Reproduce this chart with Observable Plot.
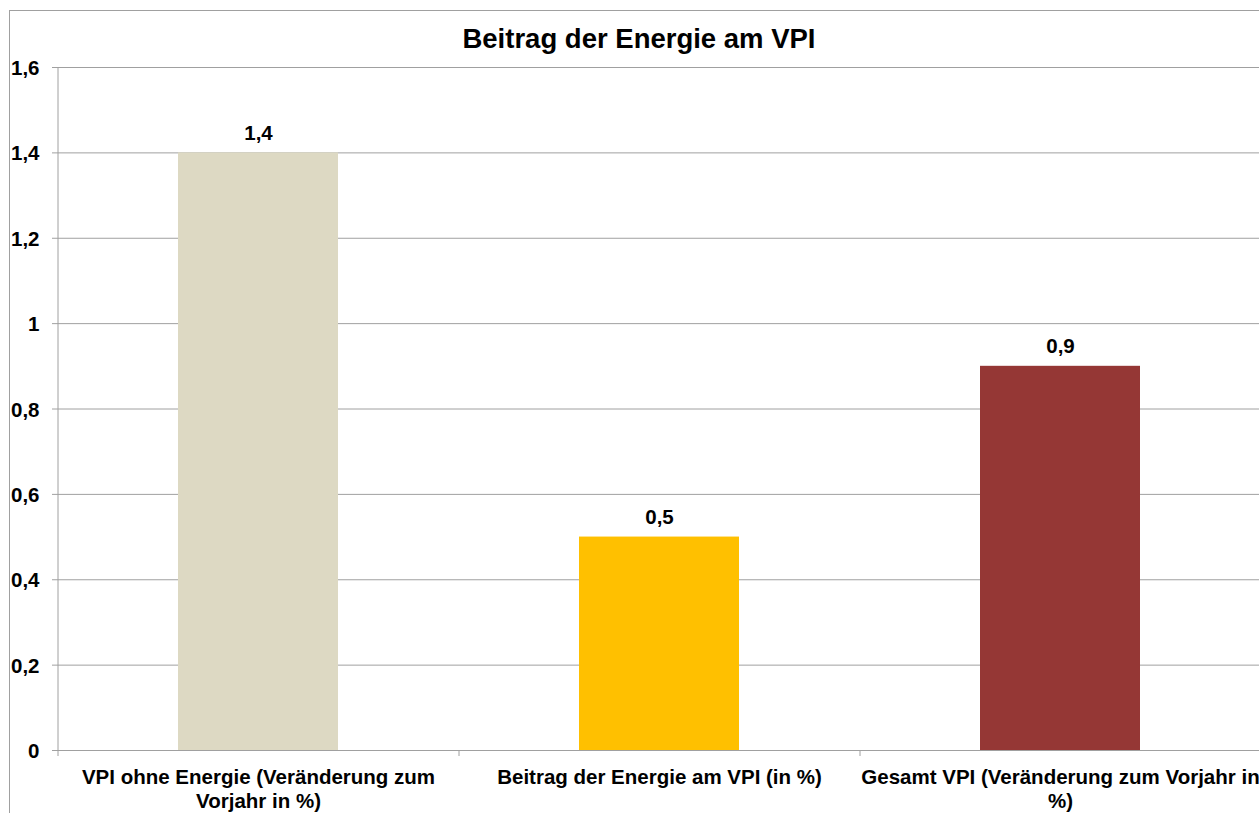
<!DOCTYPE html>
<html>
<head>
<meta charset="utf-8">
<script src="https://cdn.jsdelivr.net/npm/d3@7"></script>
<script src="https://cdn.jsdelivr.net/npm/@observablehq/plot@0.6"></script>
<style>
  html, body { margin: 0; padding: 0; background: #fff; overflow: hidden; }
  #wrap { position: relative; width: 1259px; height: 813px; overflow: hidden; font-family: "Liberation Sans", Arial, sans-serif; }
  #border { position: absolute; left: 9px; top: 10px; width: 1400px; height: 1000px; border-left: 1px solid #a0a0a0; border-top: 1px solid #a0a0a0; box-sizing: border-box; }
  #title { position: absolute; left: 9px; top: 25px; width: 1260px; text-align: center; font-size: 27.5px; line-height: 1; font-weight: bold; color: #000; z-index: 2; }
  #chart { position: absolute; left: 0; top: 0; z-index: 1; }
</style>
</head>
<body>
<div id="wrap">
  <div id="border"></div>
  <div id="chart"></div>
  <div id="title">Beitrag der Energie am VPI</div>
</div>
<script>
const categories = [
  "VPI ohne Energie (Veränderung zum Vorjahr in %)",
  "Beitrag der Energie am VPI (in %)",
  "Gesamt VPI (Veränderung zum Vorjahr in %)"
];
const categoryLabels = [
  "VPI ohne Energie (Veränderung zum\nVorjahr in %)",
  "Beitrag der Energie am VPI (in %)",
  "Gesamt VPI (Veränderung zum Vorjahr in\n%)"
];
const values = [1.4, 0.5, 0.9];
const barColors = ["#DDD9C3", "#FFC000", "#953735"];
const yTicks = [0, 0.2, 0.4, 0.6, 0.8, 1, 1.2, 1.4, 1.6];

const data = categories.map((c, i) => ({category: c, label: categoryLabels[i], value: values[i], color: barColors[i]}));
const fmt = d => String(d).replace(".", ",");

const xRange = [58, 1261];
const step = (xRange[1] - xRange[0]) / categories.length;
const grid = "#a0a0a0";
const font = "'Liberation Sans', Arial, sans-serif";

const chart = Plot.plot({
  width: 1259,
  height: 813,
  marginLeft: 58,
  marginRight: 0,
  marginTop: 67,
  marginBottom: 63,
  style: {fontFamily: font, background: "transparent", overflow: "visible"},
  x: {domain: categories, range: xRange, paddingInner: 0.6, paddingOuter: 0.3, axis: null},
  y: {domain: [0, 1.6], label: null},
  marks: [
    Plot.ruleY(yTicks, {stroke: grid, strokeWidth: 1}),
    Plot.ruleX([categories[0]], {dx: -step / 2, stroke: grid, insetBottom: -6}),
    Plot.ruleX(categories.slice(1), {x: d => d, dx: -step / 2, y1: 0, y2: 0, insetBottom: -6, stroke: grid}),
    Plot.axisY({ticks: yTicks, tickSize: 6, tickFormat: () => "", stroke: grid, label: null}),
    Plot.axisY({ticks: yTicks, tickSize: 0, tickPadding: 19, tickFormat: fmt, fontSize: 20.5, fontWeight: "bold", fill: "#000", dy: 1, label: null}),
    Plot.barY(data, {x: "category", y: "value", fill: "color"}),
    Plot.text(data, {x: "category", y: "value", text: d => fmt(d.value), lineAnchor: "bottom", dy: -13, fontSize: 20.5, fontWeight: "bold", fill: "#000"}),
    Plot.text(data, {x: "category", y: () => 0, text: "label", lineAnchor: "top", lineHeight: 1.17, dy: 16, fontSize: 20.5, fontWeight: "bold", fill: "#000"})
  ]
});
document.getElementById("chart").appendChild(chart);
</script>
</body>
</html>
